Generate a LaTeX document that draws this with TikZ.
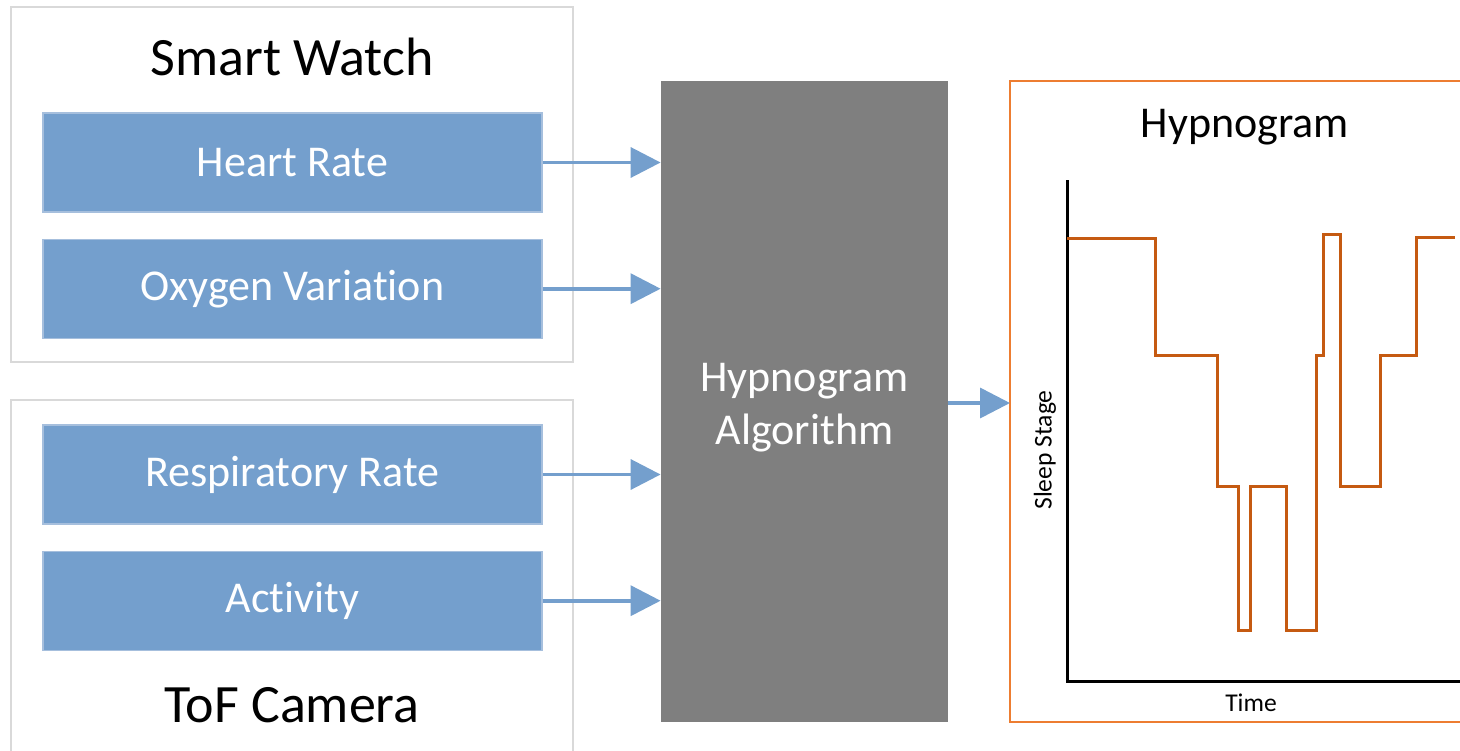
\documentclass[tikz,border=0pt]{standalone}
\usepackage{fontspec}
\setmainfont[Ligatures=NoCommon]{Carlito}
\usepackage{tikz}
\usetikzlibrary{positioning, arrows.meta, calc}

\definecolor{sensorblue}{RGB}{116,159,205}
\definecolor{sensorline}{RGB}{166,191,221}
\definecolor{framegray}{RGB}{217,217,217}
\definecolor{algogray}{RGB}{127,127,127}
\definecolor{hypframe}{RGB}{237,125,49}
\definecolor{stageorange}{RGB}{197,90,17}

\begin{document}
\begin{tikzpicture}[
    x=0.5pt, y=-0.5pt,
    group/.style={draw=framegray, line width=0.75pt, rectangle, minimum width=281pt, inner sep=0pt},
    sensor/.style={draw=sensorline, line width=0.6pt, fill=sensorblue, rectangle, minimum width=249.5pt, minimum height=49.5pt, inner sep=0pt, text=white, font=\fontsize{22}{26}\selectfont},
    title/.style={font=\fontsize{27}{32}\selectfont},
    algo/.style={fill=algogray, rectangle, minimum width=143.5pt, minimum height=320.5pt, inner sep=0pt},
    algotext/.style={text=white, align=center, font=\fontsize{22}{26.5}\selectfont},
    flow/.style={draw=sensorblue, line width=1.8pt, -{Triangle[length=15pt, width=15pt]}},
    axislabel/.style={font=\fontsize{12.8}{15}\selectfont},
    axis/.style={line width=1.5pt, black},
    stage/.style={line width=1.5pt, stageorange}
]
\useasboundingbox (0,0) rectangle (1460,750);

% Gruppen
\node[group, minimum height=177.5pt] (sw) at (292,184.5) {};
\node[group, minimum height=180pt] (tof) at (292,580) {};
\node[title] (swlabel) at (292,57) {Smart Watch};
\node[title] (toflabel) at (292,705) {ToF Camera};

% Sensoren
\node[sensor] (hr) at (292.5,162.5) {Heart Rate};
\node[sensor, below=13pt of hr] (oxy) {Oxygen Variation};
\node[sensor] (rr) at (292.5,474.5) {Respiratory Rate};
\node[sensor, below=13pt of rr] (act) {Activity};

% Algorithmus
\node[algo] (alg) at (804.5,401.5) {};
\node[algotext] (algtext) at ([yshift=-3pt]alg.center) {Hypnogram\\Algorithm};

% Hypnogramm
\coordinate (hyptl) at (1010,81);
\coordinate (hypbl) at (1010,722);
\draw[hypframe, line width=0.75pt] (1462,81) -- (hyptl) -- (hypbl) -- (1462,722);
\node[font=\fontsize{22}{26.5}\selectfont] (hyplabel) at (1245,127) {Hypnogram};
\coordinate (origin) at (1067,681);
\draw[axis] (1067,180) -- (origin) -- (1462,681);
\node[axislabel, rotate=90] (ylabel) at (1045,450) {Sleep Stage};
\node[axislabel] (xlabel) at (1251,703) {Time};
\draw[stage] (1067,238) -| (1155,355) -| (1217,486) -| (1238,630) -| (1250,486)
    -| (1286,630) -| (1316,355) -| (1323,234) -| (1340,486) -| (1380,355)
    -| (1416,237) -- (1455,237);

% Kanten
\draw[flow] (hr.east) -- (hr.east -| alg.west);
\draw[flow] (oxy.east) -- (oxy.east -| alg.west);
\draw[flow] (rr.east) -- (rr.east -| alg.west);
\draw[flow] (act.east) -- (act.east -| alg.west);
\draw[flow] (alg.east |- 0,403) -- (hyptl |- 0,403);

\end{tikzpicture}
\end{document}
